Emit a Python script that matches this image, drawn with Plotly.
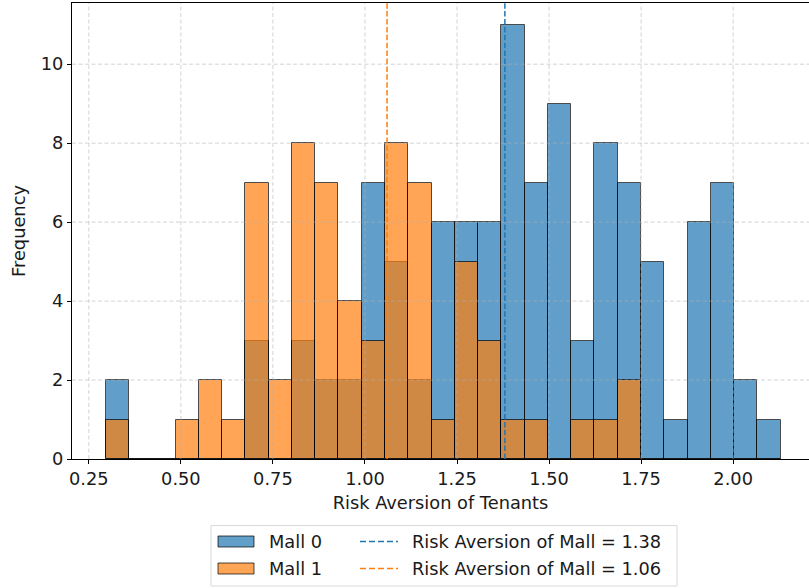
import numpy as np
import plotly.graph_objects as go

# ---- data ----
bin_start = 0.296
bin_end = 2.129
n_bins = 29
mall0_counts = [2, 0, 0, 0, 0, 0, 3, 0, 3, 2, 2, 7, 5, 2, 6, 6, 6, 11, 7, 9, 3, 8, 7, 5, 1, 6, 7, 2, 1]
mall1_counts = [1, 0, 0, 1, 2, 1, 7, 2, 8, 7, 4, 3, 8, 7, 1, 5, 3, 1, 1, 0, 1, 1, 2, 0, 0, 0, 0, 0, 0]
mall_risk = [1.38, 1.06]
series_names = ["Mall 0", "Mall 1"]
x_ticks = [0.25, 0.50, 0.75, 1.00, 1.25, 1.50, 1.75, 2.00]
y_ticks = [0, 2, 4, 6, 8, 10]

colors = ["#1f77b4", "#ff7f0e"]
edges = np.linspace(bin_start, bin_end, n_bins + 1)
centers = (edges[:-1] + edges[1:]) / 2
width = edges[1] - edges[0]

ymax = max(max(mall0_counts), max(mall1_counts)) * 1.05
span = bin_end - bin_start
x_lo = bin_start - 0.05 * span
x_hi = 2.206

FONT = "DejaVu Sans"
FS = 17.8
TXT = "#1a1a1a"

fig = go.Figure()
for i, counts in enumerate([mall0_counts, mall1_counts]):
    fig.add_trace(go.Bar(
        x=centers, y=counts, width=width, name=series_names[i], showlegend=False,
        marker=dict(color=colors[i], opacity=0.7, line=dict(color="black", width=1)),
    ))

# grid lines (drawn above bars, below the mean lines)
grid_col = "rgba(176,176,176,0.7)"
for t in x_ticks:
    fig.add_trace(go.Scatter(x=[t, t], y=[0, ymax], mode="lines", showlegend=False,
                             hoverinfo="skip", line=dict(color=grid_col, width=0.8, dash="4px,2.5px")))
for t in y_ticks[1:]:
    fig.add_trace(go.Scatter(x=[x_lo, x_hi], y=[t, t], mode="lines", showlegend=False,
                             hoverinfo="skip", line=dict(color=grid_col, width=0.8, dash="4px,2.5px")))

line_names = []
for i, r in enumerate(mall_risk):
    nm = f"Risk Aversion of Mall = {r:.2f}"
    line_names.append(nm)
    fig.add_trace(go.Scatter(
        x=[r, r], y=[0, ymax], mode="lines", name=nm, showlegend=False,
        line=dict(color=colors[i], width=1.5, dash="5.5px,2.4px"),
    ))

# plot area geometry (pixels): left 72, right 809, top 3, bottom 459
def px_x(p):
    return (p - 72) / 737.0

def px_y(p):
    return (459 - p) / 456.0

def rgba(hexc, a):
    h = hexc.lstrip("#")
    return f"rgba({int(h[0:2],16)},{int(h[2:4],16)},{int(h[4:6],16)},{a})"

# ---- manual legend (matplotlib-style) ----
shapes = [dict(type="rect", xref="paper", yref="paper",
               x0=px_x(211), x1=px_x(677), y0=px_y(586), y1=px_y(525.5),
               line=dict(color="#d9d9d9", width=1), fillcolor="white", layer="below")]
annotations = []
row_y = [541.5, 568.5]
for i in range(2):
    yc = row_y[i]
    shapes.append(dict(type="rect", xref="paper", yref="paper",
                       x0=px_x(218), x1=px_x(254), y0=px_y(yc + 5.5), y1=px_y(yc - 5.5),
                       line=dict(color="rgba(0,0,0,0.7)", width=1), fillcolor=rgba(colors[i], 0.7)))
    annotations.append(dict(xref="paper", yref="paper", x=px_x(267), y=px_y(yc),
                            xanchor="left", yanchor="middle", showarrow=False,
                            text=series_names[i], font=dict(family=FONT, size=FS, color=TXT)))
    shapes.append(dict(type="line", xref="paper", yref="paper",
                       x0=px_x(360), x1=px_x(398), y0=px_y(yc), y1=px_y(yc),
                       line=dict(color=colors[i], width=1.5, dash="6px,3px")))
    annotations.append(dict(xref="paper", yref="paper", x=px_x(410), y=px_y(yc),
                            xanchor="left", yanchor="middle", showarrow=False,
                            text=line_names[i], font=dict(family=FONT, size=FS, color=TXT)))

fig.update_layout(
    width=809, height=588,
    margin=dict(l=72, r=0, t=3, b=129, autoexpand=False),
    paper_bgcolor="white", plot_bgcolor="white",
    barmode="overlay", bargap=0, showlegend=False,
    font=dict(family=FONT, size=FS, color=TXT),
    xaxis=dict(range=[x_lo, x_hi], tickvals=x_ticks, tickformat=".2f", automargin=False,
               showgrid=False, zeroline=False, showline=True, linecolor="black", linewidth=1,
               mirror=True, ticks="outside", ticklen=4, tickcolor="black",
               tickfont=dict(family=FONT, size=FS, color=TXT),
               title=dict(text="Risk Aversion of Tenants", standoff=8,
                          font=dict(family=FONT, size=FS, color=TXT))),
    yaxis=dict(range=[0, ymax], tickvals=y_ticks, showgrid=False, zeroline=False, automargin=False,
               showline=True, linecolor="black", linewidth=1,
               ticks="outside", ticklen=4, tickcolor="black",
               tickfont=dict(family=FONT, size=FS, color=TXT),
               title=dict(text="Frequency", standoff=10, font=dict(family=FONT, size=FS, color=TXT))),
    shapes=shapes,
    annotations=annotations,
)

fig.write_html("out.html", config={"displayModeBar": False},
               post_script="document.body.style.margin='0px';")
